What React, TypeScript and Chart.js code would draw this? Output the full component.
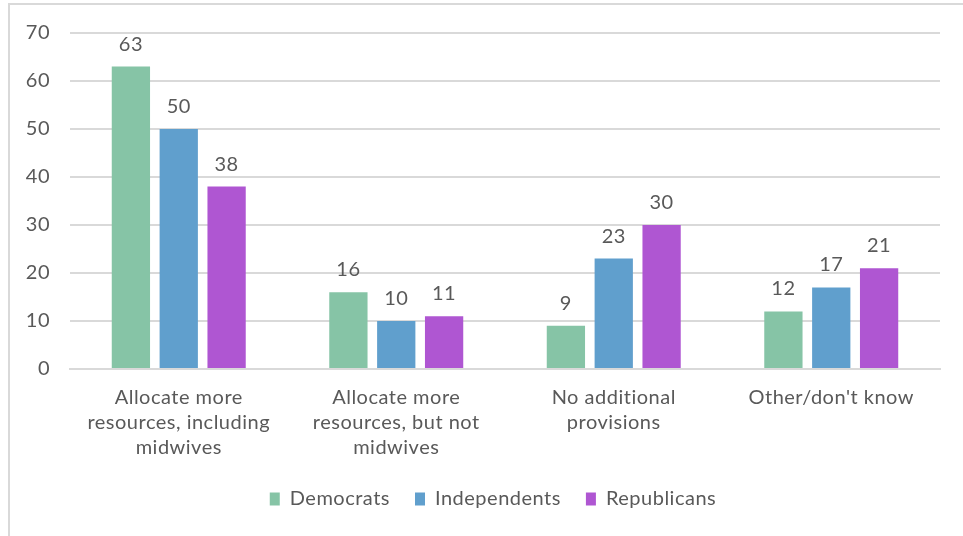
import React, { useEffect, useRef } from "react";
import { Chart, registerables } from "chart.js";

Chart.register(...registerables);

const categories: string[][] = [
  ["Allocate more", "resources, including", "midwives"],
  ["Allocate more", "resources, but not", "midwives"],
  ["No additional", "provisions"],
  ["Other/don't know"],
];
const democrats = [63, 16, 9, 12];
const independents = [50, 10, 23, 17];
const republicans = [38, 11, 30, 21];
const seriesNames = ["Democrats", "Independents", "Republicans"];
const yTicks = [0, 10, 20, 30, 40, 50, 60, 70];

const FONT = "'Lato', 'Open Sans', sans-serif";
const TEXT = "#595959";
const SPACING = "0.5px";

const spacingPlugin = {
  id: "spacing",
  beforeUpdate(chart: any) {
    chart.ctx.letterSpacing = SPACING;
  },
  beforeLayout(chart: any) {
    chart.ctx.letterSpacing = SPACING;
  },
  afterLayout(chart: any) {
    if (chart.legend) {
      chart.legend.left += 18;
      chart.legend.right += 18;
    }
  },
  beforeDraw(chart: any) {
    chart.ctx.letterSpacing = SPACING;
  },
};

const valueLabels = {
  id: "valueLabels",
  afterDatasetsDraw(chart: any) {
    const ctx = chart.ctx;
    ctx.save();
    ctx.letterSpacing = SPACING;
    ctx.font = `20px ${FONT}`;
    ctx.fillStyle = TEXT;
    ctx.textAlign = "center";
    ctx.textBaseline = "alphabetic";
    chart.data.datasets.forEach((ds: any, i: number) => {
      const meta = chart.getDatasetMeta(i);
      meta.data.forEach((bar: any, j: number) => {
        ctx.fillText(String(ds.data[j]), bar.x, bar.y - 16);
      });
    });
    ctx.restore();
  },
};

export default function App() {
  const ref = useRef<HTMLCanvasElement>(null);
  useEffect(() => {
    const chart = new Chart(ref.current!, {
      type: "bar",
      data: {
        labels: categories,
        datasets: [
          { label: seriesNames[0], data: democrats, backgroundColor: "#86C4A6" },
          { label: seriesNames[1], data: independents, backgroundColor: "#609FCD" },
          { label: seriesNames[2], data: republicans, backgroundColor: "#AF56D2" },
        ],
      },
      options: {
        animation: false,
        responsive: false,
        devicePixelRatio: 1,
        layout: { padding: { left: 10, right: 23, top: 33, bottom: 17 } },
        datasets: { bar: { categoryPercentage: 0.66, barPercentage: 0.8 } },
        scales: {
          x: {
            afterFit: (s: any) => {
              s.height = 95;
            },
            grid: { display: false },
            border: { display: true, color: "#d9d9d9", width: 2 },
            ticks: {
              color: TEXT,
              font: { family: FONT, size: 20, lineHeight: 1.25 },
              padding: 8,
              maxRotation: 0,
              autoSkip: false,
            },
          },
          y: {
            min: 0,
            max: 70,
            afterBuildTicks: (s: any) => {
              s.ticks = yTicks.map((v) => ({ value: v }));
            },
            afterFit: (s: any) => {
              s.width = 60;
            },
            grid: { color: "#d9d9d9", lineWidth: 2, drawTicks: false },
            border: { display: false },
            ticks: {
              color: TEXT,
              font: { family: FONT, size: 20 },
              padding: 20,
            },
          },
        },
        plugins: {
          legend: {
            position: "bottom",
            labels: {
              color: TEXT,
              font: { family: FONT, size: 20 },
              boxWidth: 10,
              boxHeight: 13,
              padding: 25,
            },
          },
          tooltip: { enabled: false },
        },
      },
      plugins: [spacingPlugin, valueLabels],
    });
    return () => chart.destroy();
  }, []);
  return (
    <div style={{ position: "fixed", left: 0, top: 0, width: 963, height: 536, background: "#fff", overflow: "hidden" }}>
      <div style={{ position: "absolute", left: 8, top: 3, width: 970, height: 560, border: "2px solid #d9d9d9" }} />
      <canvas ref={ref} width={963} height={536} style={{ position: "absolute", left: 0, top: 0 }} />
    </div>
  );
}
